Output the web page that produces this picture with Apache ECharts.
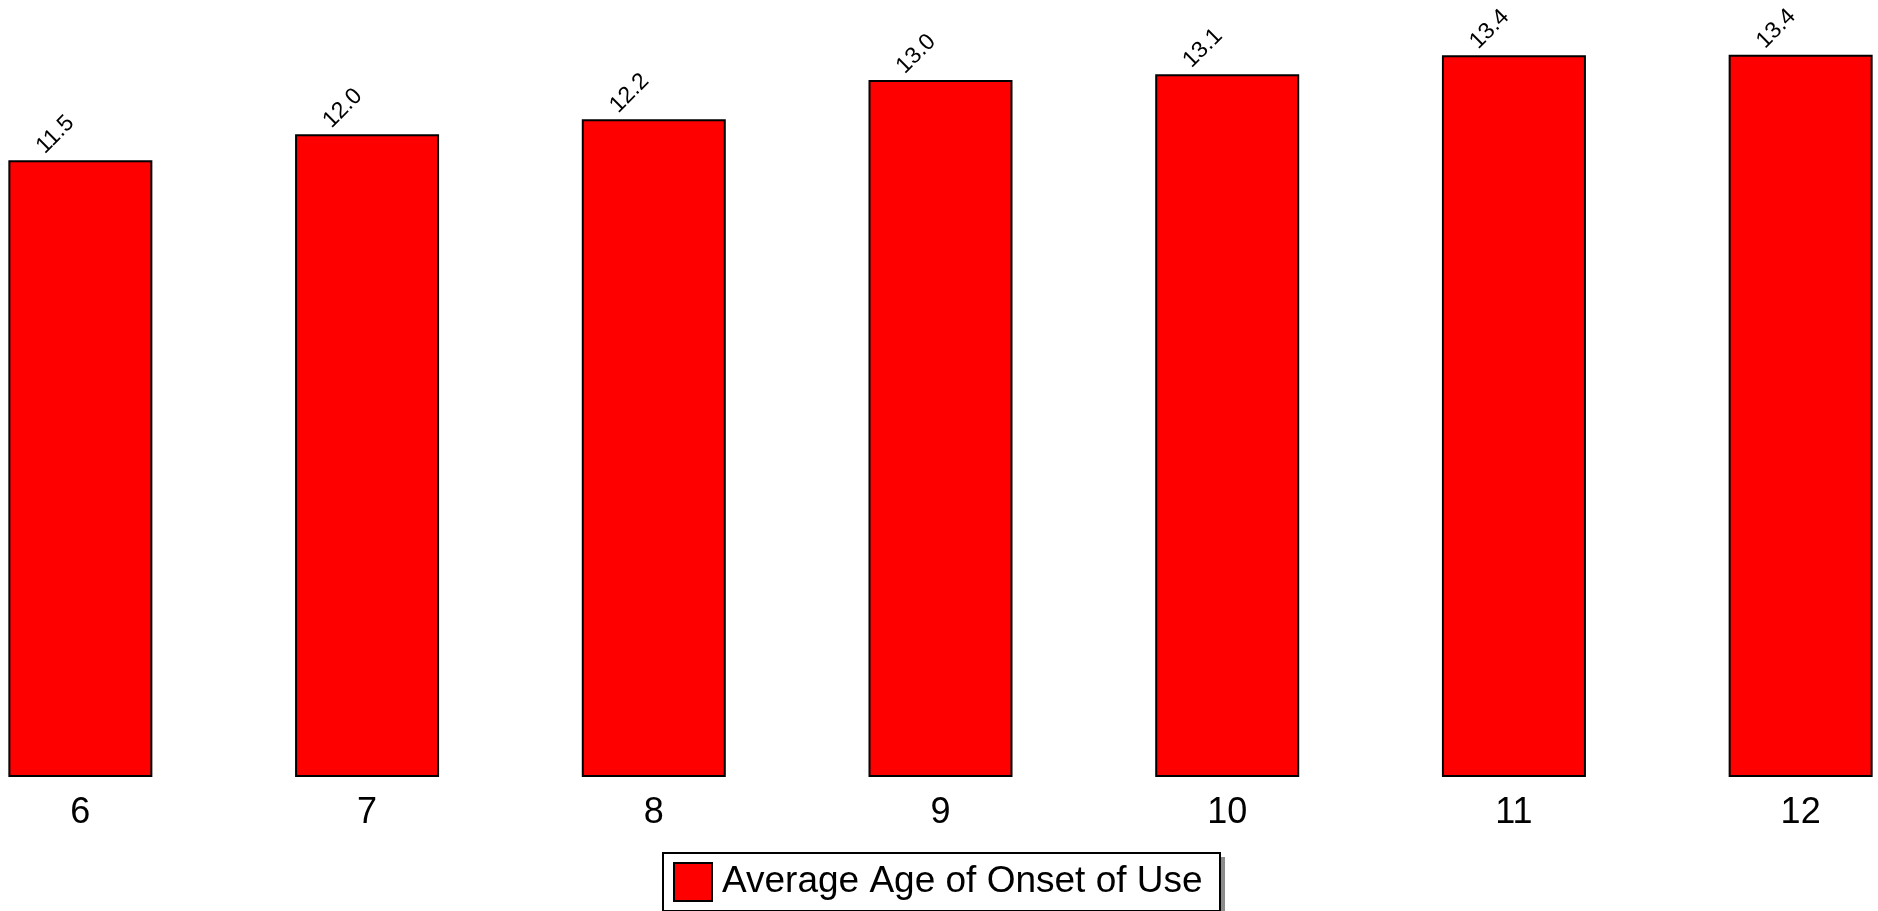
<!DOCTYPE html>
<html>
<head>
<meta charset="utf-8">
<script src="https://cdn.jsdelivr.net/npm/echarts@6/dist/echarts.min.js"></script>
<style>
  html, body { margin: 0; padding: 0; background: #fff; }
  #chart { width: 1878px; height: 911px; }
</style>
</head>
<body>
<div id="chart"></div>
<script>
  // average age of onset of use, by grade (labels show 1 decimal)
  const categories = ['6', '7', '8', '9', '10', '11', '12'];
  const onsetAge = [11.48, 11.96, 12.24, 12.97, 13.08, 13.43, 13.44];
  const seriesName = 'Average Age of Onset of Use';

  const chart = echarts.init(document.getElementById('chart'));

  const option = {
    animation: false,
    textStyle: { fontFamily: 'Arial, "Liberation Sans", sans-serif' },
    // legend frame + drop shadow (drawn separately so the shadow stays outside)
    graphic: [
      {
        type: 'rect',
        left: 667,
        top: 857,
        z: 0,
        shape: { width: 558, height: 60 },
        style: { fill: '#8c8c8c' },
      },
      {
        type: 'rect',
        left: 662,
        top: 852,
        z: 1,
        shape: { width: 557, height: 58 },
        style: { fill: '#fff', stroke: '#000', lineWidth: 2 },
      },
    ],
    legend: {
      data: [seriesName],
      left: 662,
      top: 852,
      z: 5,
      icon: 'rect',
      itemWidth: 38,
      itemHeight: 38,
      padding: [10, 22, 9, 11],
      itemStyle: { borderColor: '#000', borderWidth: 2 },
      textStyle: { fontSize: 37, color: '#000', padding: [0, 0, 0, 5] },
    },
    grid: {
      left: -63,
      width: 2007,
      top: 0,
      bottom: 134,
      outerBoundsMode: 'none',
      containLabel: false,
    },
    xAxis: {
      type: 'category',
      data: categories,
      axisLine: { show: false },
      axisTick: { show: false },
      axisLabel: { fontSize: 36, color: '#000', margin: 18 },
    },
    yAxis: {
      type: 'value',
      min: 0,
      max: 14.46,
      show: false,
      splitLine: { show: false },
    },
    series: [
      {
        name: seriesName,
        type: 'bar',
        data: onsetAge,
        barWidth: 144,
        itemStyle: { color: '#ff0000', borderColor: '#000', borderWidth: 2 },
        label: {
          show: true,
          position: [40, -2],
          rotate: 45,
          align: 'left',
          verticalAlign: 'bottom',
          fontSize: 23,
          color: '#000',
          formatter: (p) => p.value.toFixed(1),
        },
      },
    ],
  };

  chart.setOption(option);
</script>
</body>
</html>
